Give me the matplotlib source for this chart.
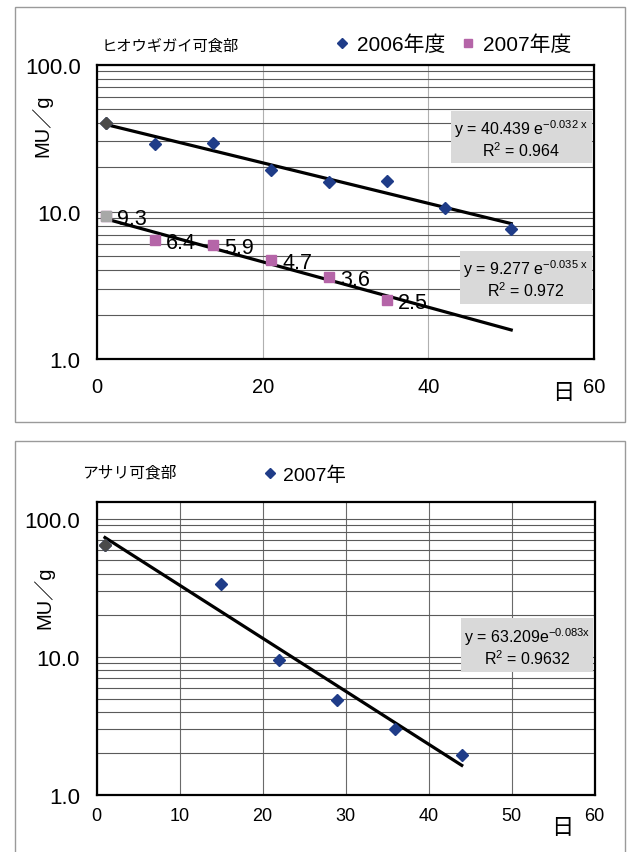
import numpy as np
import matplotlib
matplotlib.use('Agg')
import matplotlib.pyplot as plt
from matplotlib.ticker import LogLocator, NullFormatter, FixedLocator, FixedFormatter
from matplotlib.patches import Rectangle

plt.rcParams['font.family'] = ['Liberation Sans', 'Noto Sans CJK JP', 'DejaVu Sans']
plt.rcParams['mathtext.fontset'] = 'custom'
plt.rcParams['mathtext.rm'] = 'Liberation Sans'
plt.rcParams['mathtext.it'] = 'Liberation Sans'
plt.rcParams['mathtext.default'] = 'regular'

# ---------------- data ----------------
top_title = 'ヒオウギガイ可食部'
top_series_names = ['2006年度', '2007年度']
days_2006 = [1, 7, 14, 21, 28, 35, 42, 50]
mu_2006 = [40.0, 29.0, 29.4, 19.1, 16.0, 16.1, 10.6, 7.65]
days_2007 = [1, 7, 14, 21, 28, 35]
mu_2007 = [9.3, 6.4, 5.9, 4.7, 3.6, 2.5]
labels_2007 = ['9.3', '6.4', '5.9', '4.7', '3.6', '2.5']
trend_days_2006 = [1, 50]
trend_days_2007 = [1, 50]
eq_2006 = ['y = 40.439 e$^{-0.032\\ x}$', 'R$^{2}$ = 0.964']
eq_2007 = ['y = 9.277 e$^{-0.035\\ x}$', 'R$^{2}$ = 0.972']

bottom_title = 'アサリ可食部'
bottom_series_name = '2007年'
clam_days = [1, 15, 22, 29, 36, 44]
clam_mu = [65.0, 34.0, 9.5, 4.9, 3.0, 1.95]
trend_days_clam = [1, 44]
eq_clam = ['y = 63.209e$^{-0.083x}$', 'R$^{2}$ = 0.9632']

y_ticks = [1, 10, 100]
y_ticklabels = ['1.0', '10.0', '100.0']
top_x_ticks = [0, 20, 40, 60]
bottom_x_ticks = [0, 10, 20, 30, 40, 50, 60]
x_unit = '日'
y_label = 'MU／g'

NAVY = '#1F3C88'
PINK = '#B565A8'
DGREY = '#4A4A4A'
LGREY = '#A8A8A8'

W, H = 628, 853
fig = plt.figure(figsize=(W / 100, H / 100), dpi=100)


def fx(x):
    return x / W


def fy(y):
    return 1 - y / H


def trend(days, vals, rng):
    coef = np.polyfit(np.array(days, float), np.log(np.array(vals, float)), 1)
    xs = np.linspace(rng[0], rng[1], 60)
    return xs, np.exp(np.polyval(coef, xs))


# outer frames
fig.add_artist(Rectangle((fx(15), fy(423)), fx(610), (423 - 8) / H,
                         transform=fig.transFigure, fill=False, ec='#9a9a9a', lw=1.0))
fig.add_artist(Rectangle((fx(15), fy(860)), fx(610), (860 - 442) / H,
                         transform=fig.transFigure, fill=False, ec='#9a9a9a', lw=1.0))


def style_axes(ax, ylim, xticks, xfs, xpad, vgrid_color):
    ax.set_yscale('log')
    ax.set_ylim(*ylim)
    ax.set_xlim(0, 60)
    ax.yaxis.set_major_locator(FixedLocator(y_ticks))
    ax.yaxis.set_major_formatter(FixedFormatter(y_ticklabels))
    ax.yaxis.set_minor_locator(LogLocator(base=10, subs=range(2, 10)))
    ax.yaxis.set_minor_formatter(NullFormatter())
    ax.set_xticks(xticks)
    ax.set_xticklabels([str(t) for t in xticks])
    ax.tick_params(axis='y', which='both', length=0, pad=12, labelsize=16)
    ax.tick_params(axis='x', which='both', length=0, pad=xpad, labelsize=xfs)
    ax.grid(True, axis='y', which='both', color='#5a5a5a', lw=0.8)
    ax.grid(True, axis='x', which='major', color=vgrid_color, lw=0.8)
    ax.set_axisbelow(True)
    for s in ax.spines.values():
        s.set_linewidth(1.6)
        s.set_color('black')


# ---------------- top panel ----------------
ax1 = fig.add_axes([fx(97.3), fy(360), (594 - 97.3) / W, (360 - 65.5) / H])
style_axes(ax1, (1, 100), top_x_ticks, 14.5, 13, '#b0b0b0')

xs, ys = trend(days_2006, mu_2006, trend_days_2006)
ax1.plot(xs, ys, color='black', lw=2.3, zorder=3)
xs, ys = trend(days_2007, mu_2007, trend_days_2007)
ax1.plot(xs, ys, color='black', lw=2.3, zorder=3)

h1, = ax1.plot(days_2006, mu_2006, ls='none', marker='D', ms=6.3, color=NAVY,
               label=top_series_names[0], zorder=4)
ax1.plot(days_2006[:1], mu_2006[:1], ls='none', marker='D', ms=6.3, color=DGREY, zorder=5)
h2, = ax1.plot(days_2007, mu_2007, ls='none', marker='s', ms=7, color=PINK,
               label=top_series_names[1], zorder=4)
ax1.plot(days_2007[:1], mu_2007[:1], ls='none', marker='s', ms=7, color=LGREY, zorder=5)
for d, v, t in zip(days_2007, mu_2007, labels_2007):
    ax1.annotate(t, (d, v), xytext=(8, -1.5), textcoords='offset points',
                 ha='left', va='center', fontsize=15.5, zorder=6)

fig.text(fx(101.7), fy(45.7), top_title, ha='left', va='center', fontsize=11,
         family=['Noto Sans CJK JP'])
fig.legend(handles=[h1, h2], loc='center left', bbox_to_anchor=(fx(334), fy(45)),
           bbox_transform=fig.transFigure, ncol=2, frameon=False, fontsize=15,
           handlelength=0.8, handletextpad=0.3, columnspacing=0.7, borderpad=0,
           borderaxespad=0, markerscale=0.85)

fig.text(fx(42), fy(126), y_label, rotation=90, ha='center', va='center', fontsize=14.5)
fig.text(fx(563), fy(393), x_unit, ha='center', va='center', fontsize=16,
         family=['Noto Sans CJK JP'])


# equation boxes
def eq_box(x0, y0, x1, y1, lines, fs):
    fig.add_artist(Rectangle((fx(x0), fy(y1)), (x1 - x0) / W, (y1 - y0) / H,
                             transform=fig.transFigure, fc='#d9d9d9', ec='none', zorder=6))
    cx = (x0 + x1) / 2
    hgt = y1 - y0
    fig.text(fx(cx), fy(y0 + hgt * 0.33), lines[0], ha='center', va='center',
             fontsize=fs, zorder=7)
    fig.text(fx(cx), fy(y0 + hgt * 0.74), lines[1], ha='center', va='center',
             fontsize=fs, zorder=7)


eq_box(450.7, 111.7, 591.7, 164, eq_2006, 11.5)
eq_box(460, 251.7, 591.7, 305, eq_2007, 11.5)

# ---------------- bottom panel ----------------
ax2 = fig.add_axes([fx(96.7), fy(796), (594.5 - 96.7) / W, (796 - 503.3) / H])
style_axes(ax2, (1, 132), bottom_x_ticks, 13, 9, '#6a6a6a')

xs, ys = trend(clam_days, clam_mu, trend_days_clam)
ax2.plot(xs, ys, color='black', lw=2.3, zorder=3)
h3, = ax2.plot(clam_days, clam_mu, ls='none', marker='D', ms=6.3, color=NAVY,
               label=bottom_series_name, zorder=4)
ax2.plot(clam_days[:1], clam_mu[:1], ls='none', marker='D', ms=6.3, color=DGREY, zorder=5)

fig.text(fx(81.7), fy(473), bottom_title, ha='left', va='center', fontsize=11.3,
         family=['Noto Sans CJK JP'])
fig.legend(handles=[h3], loc='center left', bbox_to_anchor=(fx(262), fy(476)),
           bbox_transform=fig.transFigure, frameon=False, fontsize=14,
           handlelength=0.8, handletextpad=0.3, borderpad=0, borderaxespad=0,
           markerscale=0.85)

fig.text(fx(44), fy(598), y_label, rotation=90, ha='center', va='center', fontsize=14.5)
fig.text(fx(562), fy(828), x_unit, ha='center', va='center', fontsize=16,
         family=['Noto Sans CJK JP'])

eq_box(461, 619, 593, 673, eq_clam, 11.5)

fig.savefig('out.png', dpi=100)
